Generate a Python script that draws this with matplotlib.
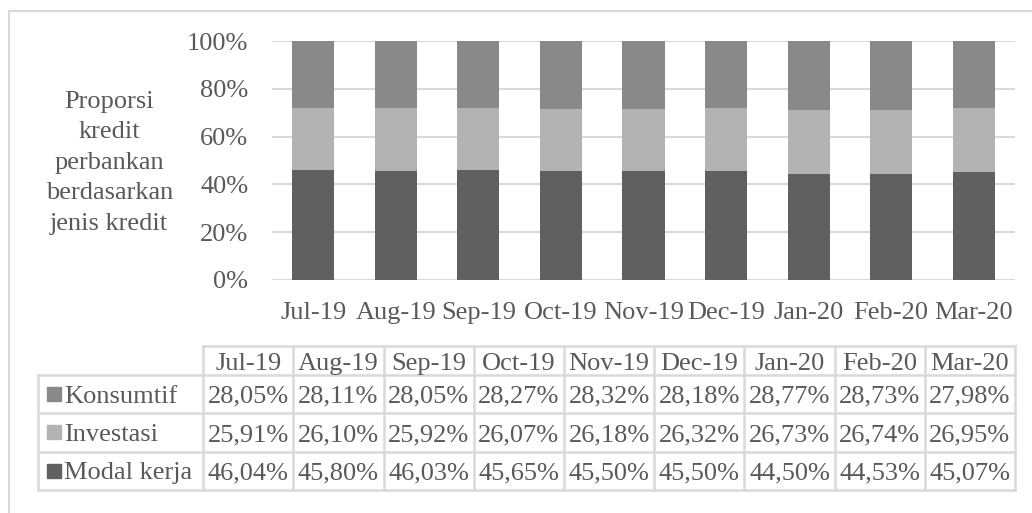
import numpy as np
import matplotlib.pyplot as plt
from matplotlib.lines import Line2D

plt.rcParams['font.family'] = ['Liberation Serif', 'DejaVu Serif']

MONTHS = ["Jul-19", "Aug-19", "Sep-19", "Oct-19", "Nov-19", "Dec-19", "Jan-20", "Feb-20", "Mar-20"]
MODAL_KERJA = [46.04, 45.80, 46.03, 45.65, 45.50, 45.50, 44.50, 44.53, 45.07]
INVESTASI = [25.91, 26.10, 25.92, 26.07, 26.18, 26.32, 26.73, 26.74, 26.95]
KONSUMTIF = [28.05, 28.11, 28.05, 28.27, 28.32, 28.18, 28.77, 28.73, 27.98]
Y_TICKS = [0, 20, 40, 60, 80, 100]

TXT = "#595959"
GRID = "#d9d9d9"
C_MODAL, C_INV, C_KONS = "#606060", "#b3b3b3", "#898989"
FS = 19

W, H = 1032, 513
fig = plt.figure(figsize=(W / 100, H / 100), dpi=100)

def box(x0, y0, x1, y1):            # pixel box (top-left origin) -> figure fraction
    return [x0 / W, 1 - y1 / H, (x1 - x0) / W, (y1 - y0) / H]

# outer chart border (only top/left visible in the reference)
fig.add_artist(Line2D([9 / W, 1], [1 - 10.5 / H] * 2, color=GRID, lw=1.5, transform=fig.transFigure))
fig.add_artist(Line2D([9 / W] * 2, [0, 1 - 10.5 / H], color=GRID, lw=1.5, transform=fig.transFigure))

# ===== bar chart =====
ax = fig.add_axes(box(272, 41, 1015, 280))
x = np.arange(len(MONTHS))
mk = np.array(MODAL_KERJA)
inv = np.array(INVESTASI)
ks = np.array(KONSUMTIF)
ax.bar(x, mk, width=0.51, color=C_MODAL, zorder=3)
ax.bar(x, inv, width=0.51, bottom=mk, color=C_INV, zorder=3)
ax.bar(x, ks, width=0.51, bottom=mk + inv, color=C_KONS, zorder=3)
ax.set_xlim(-0.5, len(MONTHS) - 0.5)
ax.set_ylim(0, 100)
ax.set_yticks(Y_TICKS)
ax.set_yticklabels([f"{v}%" for v in Y_TICKS])
ax.set_xticks(x)
ax.set_xticklabels(MONTHS)
ax.tick_params(length=0, labelsize=FS, labelcolor=TXT)
ax.tick_params(axis="y", pad=17)
ax.tick_params(axis="x", pad=16)
ax.yaxis.grid(True, color=GRID, lw=1.5, zorder=0)
for s in ax.spines.values():
    s.set_visible(False)
ax.set_ylabel("Proporsi\nkredit\nperbankan\nberdasarkan\njenis kredit",
              rotation=0, fontsize=FS, color=TXT, ha="center", va="center",
              linespacing=1.5)
ax.yaxis.set_label_coords(-0.219, 0.49)

# ===== data table =====
tab = fig.add_axes(box(38, 346, 1015, 490))
LW = 1.83                            # label column width in data-column units
HH = 0.75                            # header row height
tab.set_xlim(-LW, len(MONTHS))
tab.set_ylim(0, 3 + HH)
tab.axis("off")

rows = [("Konsumtif", KONSUMTIF, C_KONS), ("Investasi", INVESTASI, C_INV), ("Modal kerja", MODAL_KERJA, C_MODAL)]
n = len(MONTHS)

# borders
for yy in [0, 1, 2, 3]:
    tab.plot([-LW, n], [yy, yy], color=GRID, lw=1.8, clip_on=False)
tab.plot([0, n], [3 + HH, 3 + HH], color=GRID, lw=1.8, clip_on=False)
tab.plot([-LW, -LW], [0, 3], color=GRID, lw=1.8, clip_on=False)
for j in range(n + 1):
    tab.plot([j, j], [0, 3 + HH], color=GRID, lw=1.8, clip_on=False)

for j, m in enumerate(MONTHS):
    tab.text(j + 0.5, 3 + HH / 2 - 0.1, m, ha="center", va="center", fontsize=FS, color=TXT)

for i, (name, vals, col) in enumerate(rows):
    yc = 2.5 - i
    tab.plot([-LW + 0.177], [yc], marker="s", ms=10, color=col, clip_on=False)
    tab.text(-LW + 0.29, yc - 0.07, name, ha="left", va="center", fontsize=FS, color=TXT)
    for j, v in enumerate(vals):
        tab.text(j + 0.5, yc - 0.07, f"{v:.2f}%".replace(".", ","), ha="center", va="center",
                 fontsize=FS, color=TXT)

fig.savefig("out.png", dpi=100)
